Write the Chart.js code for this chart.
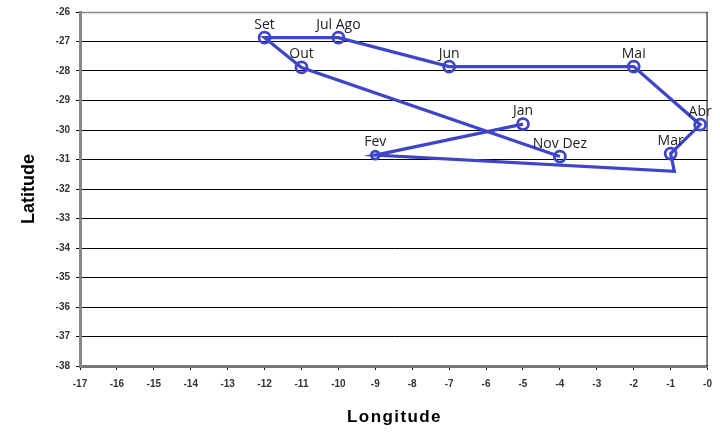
<!DOCTYPE html>
<html><head><meta charset="utf-8">
<script src="https://cdn.jsdelivr.net/npm/chart.js@4/dist/chart.umd.min.js"></script>
<style>html,body{margin:0;padding:0;background:#fff}#wrap{width:720px;height:432px}</style>
</head><body><div id="wrap"><canvas id="c" width="720" height="432"></canvas></div>
<script>
const pointLabels = ['Jan','Fev','','Mar','Abr','Mai','Jun','Jul Ago','Set','Out','Nov Dez'];
const longitude = [-5,-9,-0.9,-1,-0.2,-2,-7,-10,-12,-11,-4];
const latitude = [-29.8,-30.85,-31.4,-30.8,-29.82,-27.85,-27.85,-26.87,-26.87,-27.88,-30.9];
const markerRadius = [5.5,4,0,5.5,5.5,5.5,5.5,5.5,5.5,5.5,5.5];
const xTitle = 'Longitude';
const yTitle = 'Latitude';

const blue = '#3f45c8';
const labelPlugin = {
  id:'labels',
  afterDatasetsDraw(chart){
    const ctx = chart.ctx, meta = chart.getDatasetMeta(0);
    ctx.save();
    ctx.font = '14px "Open Sans", sans-serif';
    ctx.fillStyle = '#222';
    ctx.textAlign = 'center';
    ctx.textBaseline = 'bottom';
    meta.data.forEach((p,i)=>{ if(pointLabels[i]) ctx.fillText(pointLabels[i], p.x, p.y-6); });
    ctx.restore();
  },
  beforeDatasetsDraw(chart){
    const {ctx, chartArea:a} = chart;
    ctx.save();
    ctx.strokeStyle = '#888'; ctx.lineWidth = 1.5;
    ctx.beginPath(); ctx.moveTo(a.left, a.top+0.5); ctx.lineTo(a.right, a.top+0.5); ctx.stroke();
    ctx.strokeStyle = '#000'; ctx.lineWidth = 1;
    ctx.beginPath(); ctx.moveTo(a.right-0.5, a.top); ctx.lineTo(a.right-0.5, a.bottom); ctx.stroke();
    ctx.restore();
  }
};

new Chart(document.getElementById('c'), {
  type:'scatter',
  data:{datasets:[{
    data: longitude.map((x,i)=>({x, y:latitude[i]})),
    showLine:true,
    borderColor:blue, borderWidth:3.2,
    pointRadius:markerRadius, pointBorderWidth:2.8,
    pointBorderColor:blue, pointBackgroundColor:'rgba(255,255,255,0)',
    tension:0
  }]},
  options:{
    responsive:false, animation:false,
    layout:{padding:{top:12,right:7,left:0,bottom:0}},
    plugins:{legend:{display:false}, tooltip:{enabled:false}},
    scales:{
      x:{type:'linear', min:-17, max:0,
        ticks:{stepSize:1, color:'#333', font:{size:10, weight:'bold', family:'"Liberation Sans", sans-serif'},
          callback:v=> v===0 ? '-0' : v, maxRotation:0, autoSkip:false, padding:8},
        grid:{drawOnChartArea:false, tickLength:4, color:'#000'},
        border:{color:'#777', width:3},
        title:{display:true, text:'L o n g i t u d e'.replace(/ /g,'\u200A'), color:'#000', font:{size:17, weight:'bold', family:'"Liberation Sans", sans-serif'}, padding:{top:8,bottom:4}},
        afterFit(s){ s.height = 66; }
      },
      y:{type:'linear', min:-38, max:-26,
        ticks:{stepSize:1, color:'#333', font:{size:10, weight:'bold', family:'"Liberation Sans", sans-serif'}, padding:6},
        grid:{color:'#000', lineWidth:1, tickLength:4},
        border:{color:'#888', width:3},
        title:{display:true, text:yTitle, color:'#000', font:{size:18, weight:'bold', family:'"Liberation Sans", sans-serif'}, padding:{top:18,bottom:14}},
        afterFit(s){ s.width = 80; }
      }
    }
  },
  plugins:[labelPlugin]
});
</script></body></html>
